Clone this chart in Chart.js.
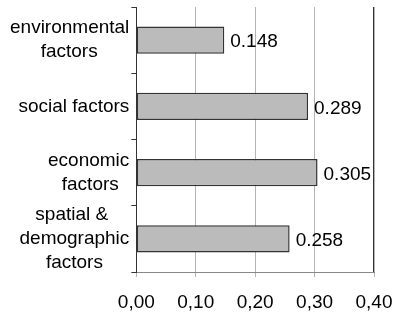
<!DOCTYPE html>
<html>
<head>
<meta charset="utf-8">
<script src="https://cdn.jsdelivr.net/npm/chart.js@4"></script>
<style>
  html, body { margin: 0; padding: 0; background: #fff; }
</style>
</head>
<body>
<canvas id="factorChart" width="393" height="314"></canvas>
<script>
// Chart data
const categories = [
    ['environmental', 'factors'],
    ['social factors'],
    ['economic', 'factors'],
    ['spatial &', 'demographic', 'factors']
];
const weights = [0.148, 0.289, 0.305, 0.258];
const valueLabels = ['0.148', '0.289', '0.305', '0.258'];
const xTickLabels = ['0,00', '0,10', '0,20', '0,30', '0,40'];

const FONT = '"Liberation Sans", Arial, sans-serif';
Chart.defaults.font.family = FONT;
Chart.defaults.font.size = 19;
Chart.defaults.color = '#000';

// Centre each line inside its label block (the block itself stays right aligned)
const measureCtx = document.createElement('canvas').getContext('2d');
measureCtx.font = '19px ' + FONT;
function centreLines(lines) {
    const widths = lines.map(l => measureCtx.measureText(l).width);
    const maxW = Math.max(...widths);
    const spaceW = measureCtx.measureText(' ').width;
    return lines.map((l, i) => {
        const n = Math.round((maxW - widths[i]) / 2 / spaceW);
        return l + ' '.repeat(n);
    });
}

// Value labels next to the bars
const valueLabelPlugin = {
    id: 'valueLabels',
    afterDatasetsDraw(chart) {
        const ctx = chart.ctx;
        const meta = chart.getDatasetMeta(0);
        ctx.save();
        ctx.font = '19px ' + FONT;
        ctx.fillStyle = '#000';
        ctx.textAlign = 'left';
        ctx.textBaseline = 'middle';
        meta.data.forEach((bar, i) => {
            ctx.fillText(valueLabels[i], bar.x + 6, bar.y + 2);
        });
        ctx.restore();
    }
};

// Dark left axis and right frame line of the plot area
const framePlugin = {
    id: 'frame',
    afterDraw(chart) {
        const { ctx, chartArea } = chart;
        ctx.save();
        ctx.strokeStyle = '#333';
        ctx.lineWidth = 1;
        ctx.beginPath();
        ctx.moveTo(Math.round(chartArea.left) + 0.5, chartArea.top);
        ctx.lineTo(Math.round(chartArea.left) + 0.5, chartArea.bottom);
        ctx.moveTo(Math.round(chartArea.right) - 0.5, chartArea.top);
        ctx.lineTo(Math.round(chartArea.right) - 0.5, chartArea.bottom);
        ctx.stroke();
        ctx.restore();
    }
};

new Chart(document.getElementById('factorChart'), {
    type: 'bar',
    data: {
        labels: categories.map(centreLines),
        datasets: [{
            data: weights,
            backgroundColor: '#bbbbbb',
            borderColor: '#333',
            borderWidth: 1.5,
            borderSkipped: false,
            categoryPercentage: 1,
            barPercentage: 0.41
        }]
    },
    options: {
        indexAxis: 'y',
        responsive: false,
        animation: false,
        devicePixelRatio: 1,
        layout: {
            padding: { top: 7, left: 8, right: 19, bottom: 0 }
        },
        plugins: {
            legend: { display: false },
            tooltip: { enabled: false }
        },
        scales: {
            x: {
                min: 0,
                max: 0.4,
                afterFit(scale) {
                    scale.paddingLeft = 0;
                    scale.paddingRight = 0;
                    scale.height = 42;
                },
                ticks: {
                    stepSize: 0.1,
                    padding: 14,
                    maxRotation: 0,
                    autoSkip: false,
                    callback: (value, index) => xTickLabels[index]
                },
                grid: {
                    color: '#b4b4b4',
                    tickLength: 5
                },
                border: { color: '#888' }
            },
            y: {
                afterFit(scale) {
                    scale.paddingTop = 0;
                    scale.paddingBottom = 0;
                },
                grid: {
                    drawOnChartArea: false,
                    color: '#333',
                    tickLength: 5,
                    offset: true
                },
                border: { color: '#333' },
                ticks: {
                    padding: 2,
                    autoSkip: false,
                    crossAlign: 'near',
                    font: { size: 19, lineHeight: 1.25 }
                }
            }
        }
    },
    plugins: [valueLabelPlugin, framePlugin]
});
</script>
</body>
</html>
